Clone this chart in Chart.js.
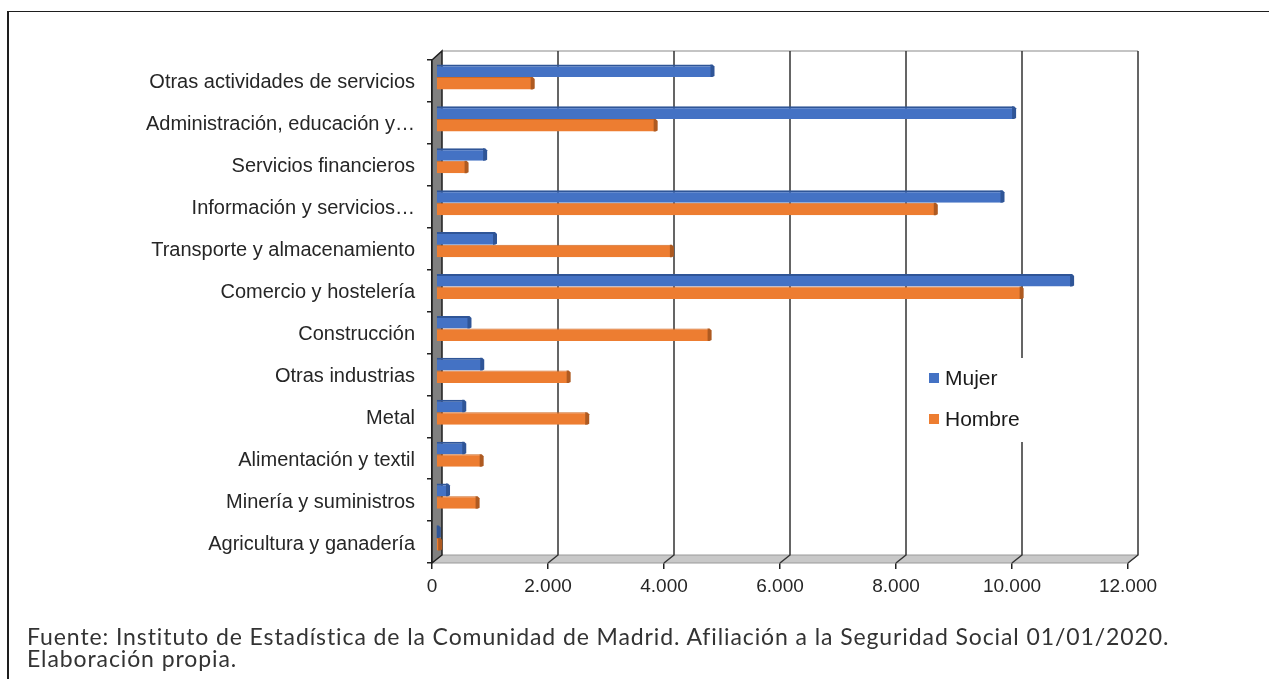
<!DOCTYPE html>
<html lang="es">
<head>
<meta charset="utf-8">
<title>Afiliación por sector y sexo</title>
<script src="https://cdn.jsdelivr.net/npm/chart.js@4.4.1/dist/chart.umd.min.js"></script>
<style>
  html, body { margin: 0; padding: 0; background: #fff; }
  #wrap { position: relative; width: 1269px; height: 679px; overflow: hidden; }
  #chart-box { position: absolute; left: 0; top: 0; width: 1269px; height: 679px; }
  #frame { position: absolute; left: 7px; top: 11px; width: 1300px; height: 700px;
           border-top: 1.5px solid #1e1e1e; border-left: 2px solid #1e1e1e; pointer-events: none; }
  #fuente { position: absolute; left: 27px; top: 625px; font-family: Lato, "Noto Sans", sans-serif;
            font-size: 23px; line-height: 22px; letter-spacing: 0.9px; color: #333; white-space: nowrap; }
</style>
</head>
<body>
<div id="wrap">
  <div id="chart-box"><canvas id="grafico"></canvas></div>
  <div id="frame"></div>
  <div id="fuente">Fuente: Instituto de Estadística de la Comunidad de Madrid. Afiliación a la Seguridad Social 01/01/2020.<br>Elaboración propia.</div>
</div>
<script>
// sectores de arriba a abajo
var sectores = [
    'Otras actividades de servicios',
    'Administración, educación y…',
    'Servicios financieros',
    'Información y servicios…',
    'Transporte y almacenamiento',
    'Comercio y hostelería',
    'Construcción',
    'Otras industrias',
    'Metal',
    'Alimentación y textil',
    'Minería y suministros',
    'Agricultura y ganadería'
];
var mujer  = [4750, 9950, 830, 9750, 1000, 10950, 560, 780, 470, 470, 190, 30];
var hombre = [1650, 3770, 510, 8600, 4050, 10080, 4700, 2270, 2590, 770, 700, 55];

var eje_min = 0;
var eje_max = 12000;
var eje_paso = 2000;

var azul = '#4472C4', azul_oscuro = '#2F5597';
var naranja = '#ED7D31', naranja_oscuro = '#AE5A21';

// fondo del grafico en perspectiva
var prof_x = 10, prof_y = 8;

function formato_miles(v)
{
    return String(v).replace(/\B(?=(\d{3})+(?!\d))/g, '.');
}

var escena3d = {
    id: 'escena3d',
    beforeDatasetsDraw: function(chart)
    {
        var ctx = chart.ctx, a = chart.chartArea, sx = chart.scales.x;
        ctx.save();

        // suelo
        ctx.beginPath();
        ctx.moveTo(a.left, a.bottom);
        ctx.lineTo(a.right, a.bottom);
        ctx.lineTo(a.right + prof_x, a.bottom - prof_y);
        ctx.lineTo(a.left + prof_x, a.bottom - prof_y);
        ctx.closePath();
        ctx.fillStyle = '#c8c8c8';
        ctx.fill();
        ctx.strokeStyle = '#9a9a9a';
        ctx.lineWidth = 1;
        ctx.stroke();

        // borde superior de la pared del fondo
        ctx.beginPath();
        ctx.moveTo(a.left + prof_x, a.top - prof_y - 1);
        ctx.lineTo(a.right + prof_x, a.top - prof_y - 1);
        ctx.strokeStyle = '#c4c4c4';
        ctx.lineWidth = 2;
        ctx.stroke();

        // lineas de division en pared y suelo
        ctx.strokeStyle = '#333';
        ctx.lineWidth = 1.5;
        sx.ticks.forEach(function(t)
        {
            if (t.value <= eje_min) return;
            var px = sx.getPixelForValue(t.value);
            ctx.beginPath();
            ctx.moveTo(px + prof_x, a.top - prof_y - 1);
            ctx.lineTo(px + prof_x, a.bottom - prof_y);
            ctx.lineTo(px, a.bottom);
            ctx.stroke();
        });

        // pared izquierda
        ctx.beginPath();
        ctx.moveTo(a.left, a.top);
        ctx.lineTo(a.left + prof_x, a.top - prof_y - 1);
        ctx.lineTo(a.left + prof_x, a.bottom - prof_y);
        ctx.lineTo(a.left, a.bottom);
        ctx.closePath();
        ctx.fillStyle = '#808080';
        ctx.fill();
        ctx.strokeStyle = '#1e1e1e';
        ctx.lineWidth = 1.5;
        ctx.stroke();

        // leyenda
        var ley = chart.options.plugins.escena3d;
        ctx.fillStyle = '#fff';
        ctx.fillRect(ley.x - 14, ley.y - 20, 125, 84);
        ctx.font = ley.fuente;
        ctx.textBaseline = 'middle';
        chart.data.datasets.forEach(function(ds, i)
        {
            var yy = ley.y + i * ley.salto;
            ctx.fillStyle = ds.backgroundColor;
            ctx.fillRect(ley.x, yy - 5, 10, 10);
            ctx.fillStyle = '#1a1a1a';
            ctx.fillText(ds.label, ley.x + 16, yy + 1);
        });

        ctx.restore();
    },
    beforeDatasetDraw: function(chart, args)
    {
        chart.ctx.save();
        chart.ctx.translate(prof_x / 2 - 1, -prof_y / 2);
    },
    afterDatasetDraw: function(chart, args)
    {
        var ctx = chart.ctx;
        var ds = chart.data.datasets[args.index];
        // cara lateral de cada barra
        ctx.fillStyle = ds.colorLado;
        args.meta.data.forEach(function(el)
        {
            var p = el.getProps(['x', 'y', 'base', 'height'], true);
            var top = p.y - p.height / 2, bottom = p.y + p.height / 2;
            ctx.beginPath();
            ctx.moveTo(p.x - 1, top);
            ctx.lineTo(p.x + 1, top);
            ctx.lineTo(p.x + 3, top + 2);
            ctx.lineTo(p.x + 3, bottom - 1);
            ctx.lineTo(p.x + 1, bottom);
            ctx.lineTo(p.x - 1, bottom);
            ctx.closePath();
            ctx.fill();
        });
        ctx.restore();
    }
};

var config = {
    type: 'bar',
    data: {
        labels: sectores,
        datasets: [
            {
                label: 'Mujer',
                data: mujer,
                backgroundColor: azul,
                borderColor: azul_oscuro,
                borderWidth: { top: 2, right: 0, bottom: 0, left: 0 },
                borderSkipped: false,
                colorLado: azul_oscuro,
                clip: false
            },
            {
                label: 'Hombre',
                data: hombre,
                backgroundColor: naranja,
                borderColor: '#d06a24',
                borderWidth: { top: 1, right: 0, bottom: 0, left: 0 },
                borderSkipped: false,
                colorLado: naranja_oscuro,
                clip: false
            }
        ]
    },
    options: {
        indexAxis: 'y',
        responsive: true,
        maintainAspectRatio: false,
        animation: false,
        categoryPercentage: 0.6,
        barPercentage: 1.0,
        layout: { padding: { left: 0, top: 60, right: 141, bottom: 76 } },
        plugins: {
            legend: { display: false },
            tooltip: { enabled: false },
            escena3d: { x: 929, y: 378, salto: 41, fuente: '21px "Liberation Sans", Arial, sans-serif' }
        },
        scales: {
            x: {
                min: eje_min,
                max: eje_max,
                ticks: {
                    stepSize: eje_paso,
                    color: '#262626',
                    font: { family: '"Liberation Sans", Arial, sans-serif', size: 19 },
                    padding: 6,
                    maxRotation: 0,
                    callback: function(v) { return formato_miles(v); }
                },
                grid: { drawOnChartArea: false, drawTicks: true, tickLength: 6, color: '#222', lineWidth: 1.5 },
                border: { display: false },
                afterFit: function(s) { s.height = 40; }
            },
            y: {
                ticks: {
                    color: '#262626',
                    font: { family: '"Liberation Sans", Arial, sans-serif', size: 20 },
                    padding: 12,
                    labelOffset: 2,
                    autoSkip: false
                },
                grid: { drawOnChartArea: false, drawTicks: true, tickLength: 5, color: '#222', lineWidth: 1.5, offset: true },
                border: { display: true, color: '#1e1e1e', width: 1.5 },
                afterFit: function(s) { s.width = 432; }
            }
        }
    },
    plugins: [escena3d]
};

var ctx = document.getElementById('grafico');
new Chart(ctx, config);
</script>
</body>
</html>
